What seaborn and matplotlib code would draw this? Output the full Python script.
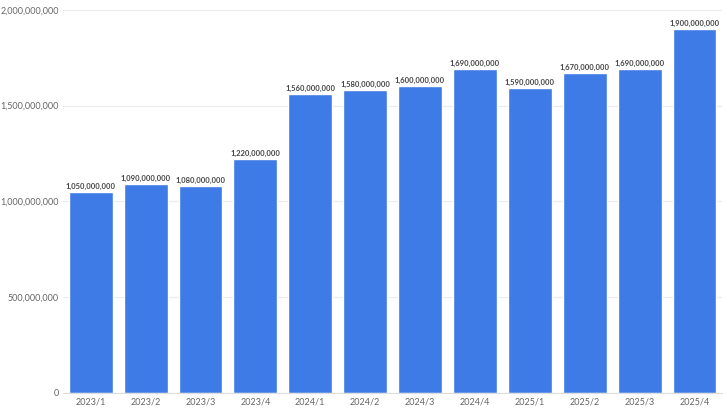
import matplotlib
matplotlib.use("Agg")
import matplotlib.pyplot as plt
import seaborn as sns
import pandas as pd
from matplotlib.ticker import FuncFormatter

periodos = ["2023/1", "2023/2", "2023/3", "2023/4", "2024/1", "2024/2",
            "2024/3", "2024/4", "2025/1", "2025/2", "2025/3", "2025/4"]
valores = [1050000000, 1090000000, 1080000000, 1220000000, 1560000000, 1580000000,
           1600000000, 1690000000, 1590000000, 1670000000, 1690000000, 1900000000]

tabela = pd.DataFrame({"periodo": periodos, "valor": valores})

sns.set_style("white")
plt.rcParams["font.family"] = ["Lato", "DejaVu Sans"]

fig = plt.figure(figsize=(7.27, 4.11), dpi=100)
ax = fig.add_axes([0.087, 0.044, 0.906, 0.932])

sns.barplot(data=tabela, x="periodo", y="valor", color="#3F7BE6", saturation=1,
            width=0.8, ax=ax, zorder=2)

for i, v in enumerate(valores):
    ax.text(i, v + 12000000, f"{v:,}", ha="center", va="bottom",
            fontsize=5.5, fontweight="bold", color="#444444")

ax.set_ylim(0, 2000000000)
ax.set_yticks(range(0, 2000000001, 500000000))
ax.yaxis.set_major_formatter(FuncFormatter(lambda v, p: f"{int(v):,}"))
ax.grid(axis="y", color="#EBEBEB", linewidth=0.8, zorder=0)
ax.set_xlabel("")
ax.set_ylabel("")
ax.tick_params(axis="both", labelsize=6.5, labelcolor="#666666", length=0, pad=3)
for s in ["top", "right", "left"]:
    ax.spines[s].set_visible(False)
ax.spines["bottom"].set_color("#DDDDDD")

fig.savefig("out.png", dpi=100)
